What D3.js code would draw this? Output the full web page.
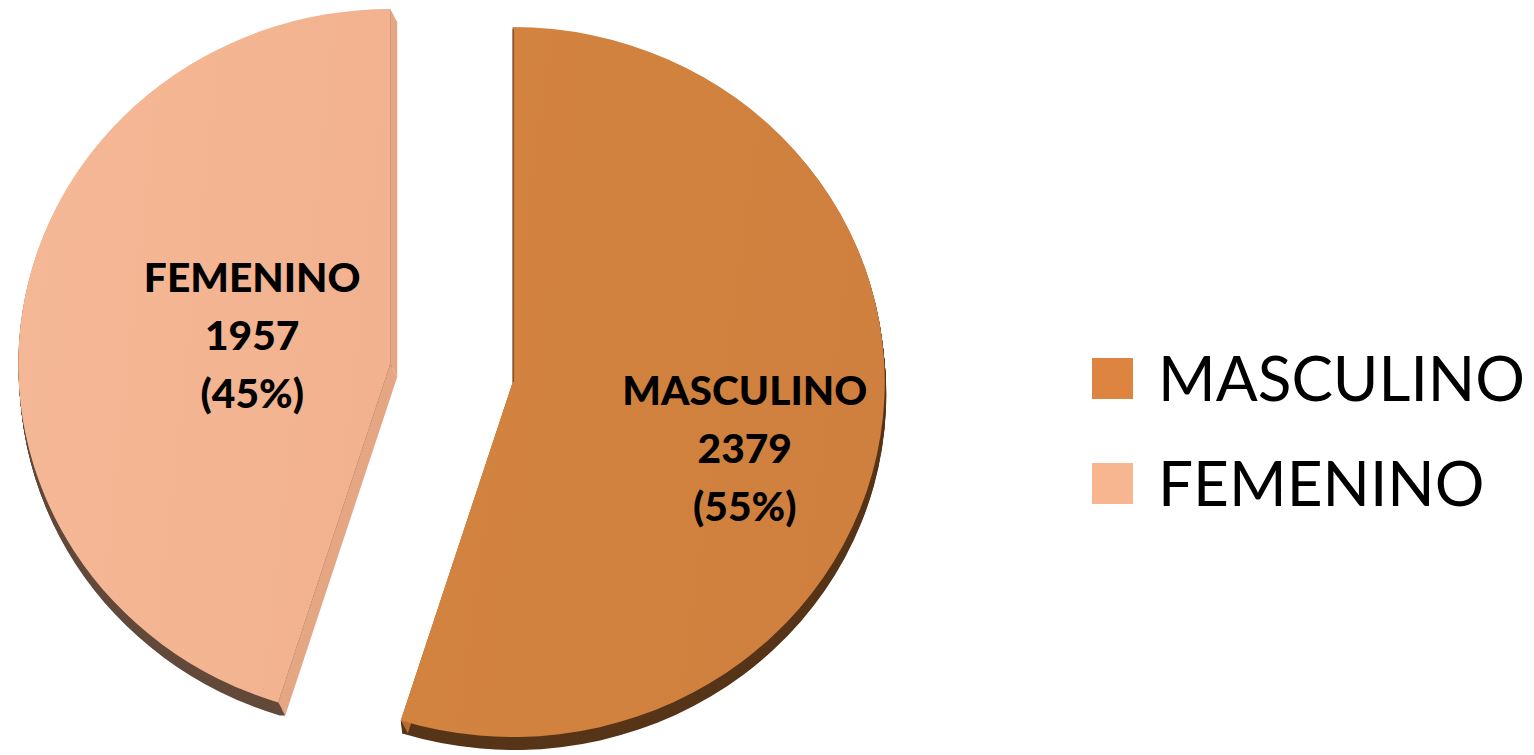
<!DOCTYPE html>
<html>
<head>
<meta charset="utf-8">
<script src="https://cdn.jsdelivr.net/npm/d3@7"></script>
<style>
    body { margin: 0; background: #ffffff; }
    svg { display: block; }
</style>
</head>
<body>
<div id="chart"></div>
<script>
// Data
var categories = ["MASCULINO", "FEMENINO"];
var counts = [2379, 1957];
var percentLabels = ["55%", "45%"];

// Colours
var faceColors = ["#d0803e", "#f2b28f"];
var faceLight = ["#d3843f", "#f5b896"];
var wallColors = ["#573519", "#634a3b"];
var cutColors = ["#b56c32", "#e5a683"];
var legendColors = ["#dd8540", "#f8b690"];

var svgWidth = 1534;
var svgHeight = 755;

// pie geometry (tilted, so the face is a bit squashed)
var rx = 372;
var ry = 355;
var pieCenter = { x: 451.5, y: 373 };
var explode = 62;
var depth = { x: 1.5, y: 13 };     // outer rim wall
var cutDepth = { x: 7, y: 13 };    // radial cut walls (perspective makes them wider)
var depthSteps = 16;

// label offsets from each slice centre (visual centre of the text block)
var labelOffset = [[232, 67], [-138, -28]];
var lineGap = 58;

var svg = d3.select("#chart")
    .append("svg")
    .attr("width", svgWidth)
    .attr("height", svgHeight);

var defs = svg.append("defs");

faceColors.forEach(function(c, i) {
    var grad = defs.append("linearGradient")
        .attr("id", "face" + i)
        .attr("x1", "0%").attr("y1", "0%")
        .attr("x2", "100%").attr("y2", "20%");
    grad.append("stop").attr("offset", "0%").attr("stop-color", faceLight[i]);
    grad.append("stop").attr("offset", "100%").attr("stop-color", c);
});

var pie = d3.pie().sort(null).value(d => d);
var slices = pie(counts);

var arc = d3.arc().innerRadius(0).outerRadius(rx);
var yScale = ry / rx;

// centre of each exploded slice
slices.forEach(function(s) {
    var mid = (s.startAngle + s.endAngle) / 2;
    s.cx = pieCenter.x + Math.sin(mid) * explode;
    s.cy = pieCenter.y - Math.cos(mid) * explode * yScale;
});

// point on the squashed rim
function rim(s, angle) {
    return [s.cx + Math.sin(angle) * rx, s.cy - Math.cos(angle) * ry];
}

var chartGroup = svg.append("g");

// side walls: stack copies of the slice along the depth vector
slices.forEach(function(s, i) {
    var g = chartGroup.append("g");
    for (var k = depthSteps; k >= 1; k--) {
        var t = k / depthSteps;
        g.append("path")
            .attr("transform", `translate(${s.cx + depth.x * t}, ${s.cy + depth.y * t}) scale(1, ${yScale})`)
            .attr("d", arc(s))
            .attr("fill", wallColors[i]);
    }
});

// radial cut walls
slices.forEach(function(s, i) {
    [s.startAngle, s.endAngle].forEach(function(a) {
        var p = rim(s, a);
        var pts = [
            [s.cx, s.cy],
            p,
            [p[0] + cutDepth.x, p[1] + cutDepth.y],
            [s.cx + cutDepth.x, s.cy + cutDepth.y]
        ];
        chartGroup.append("path")
            .attr("d", "M" + pts.join("L") + "Z")
            .attr("fill", cutColors[i]);
        // dark rim wall under the cut wall's outer end (only on the lower rim)
        if (Math.cos(a) < 0) {
            var q = [
                p,
                [p[0] + cutDepth.x, p[1] + cutDepth.y],
                [p[0] + depth.x, p[1] + depth.y]
            ];
            chartGroup.append("path")
                .attr("d", "M" + q.join("L") + "Z")
                .attr("fill", wallColors[i]);
        }
    });
});

// top faces
slices.forEach(function(s, i) {
    chartGroup.append("path")
        .attr("transform", `translate(${s.cx}, ${s.cy}) scale(1, ${yScale})`)
        .attr("d", arc(s))
        .attr("fill", `url(#face${i})`);
});

// thin dark edge on masculino's vertical cut
var m = slices[0];
var mTop = rim(m, m.startAngle);
chartGroup.append("line")
    .attr("x1", mTop[0] + 0.5).attr("y1", mTop[1] + 2)
    .attr("x2", m.cx + 0.5).attr("y2", m.cy)
    .attr("stroke", "#6b4020")
    .attr("stroke-width", 1.5)
    .attr("opacity", 0.7);

// data labels
var labelGroups = slices.map(function(s, i) {
    var g = chartGroup.append("g")
        .attr("transform", `translate(${s.cx + labelOffset[i][0]}, ${s.cy + labelOffset[i][1]})`);
    var lines = [categories[i], String(counts[i]), "(" + percentLabels[i] + ")"];
    lines.forEach(function(t, j) {
        g.append("text")
            .attr("x", 0)
            .attr("y", (j - 1) * lineGap + 14)
            .attr("text-anchor", "middle")
            .style("font-family", "Lato, 'Open Sans', sans-serif")
            .style("font-weight", "900")
            .style("font-size", "39px")
            .attr("fill", "#000000")
            .text(t);
    });
    return g;
});

// fit label font to the reference width of MASCULINO
var mLabel = labelGroups[0].select("text").node();
var lblSize = 39 * 245 / mLabel.getComputedTextLength();
chartGroup.selectAll("g text").style("font-size", lblSize + "px");

// legend
var legend = svg.append("g").attr("transform", "translate(1092, 358)");
var legendItems = legend.selectAll("g")
    .data(categories)
    .enter()
    .append("g")
    .attr("transform", (d, i) => `translate(0, ${i * 105})`);

legendItems.append("rect")
    .attr("width", 41)
    .attr("height", 41)
    .attr("fill", (d, i) => legendColors[i]);

var legendText = legendItems.append("text")
    .attr("x", 66)
    .attr("y", 43)
    .style("font-family", "Lato, 'Open Sans', sans-serif")
    .style("font-size", "68px")
    .attr("fill", "#000000")
    .text(d => d);

var legSize = 68 * 367 / legendText.nodes()[0].getComputedTextLength();
legendText.style("font-size", legSize + "px");
</script>
</body>
</html>
